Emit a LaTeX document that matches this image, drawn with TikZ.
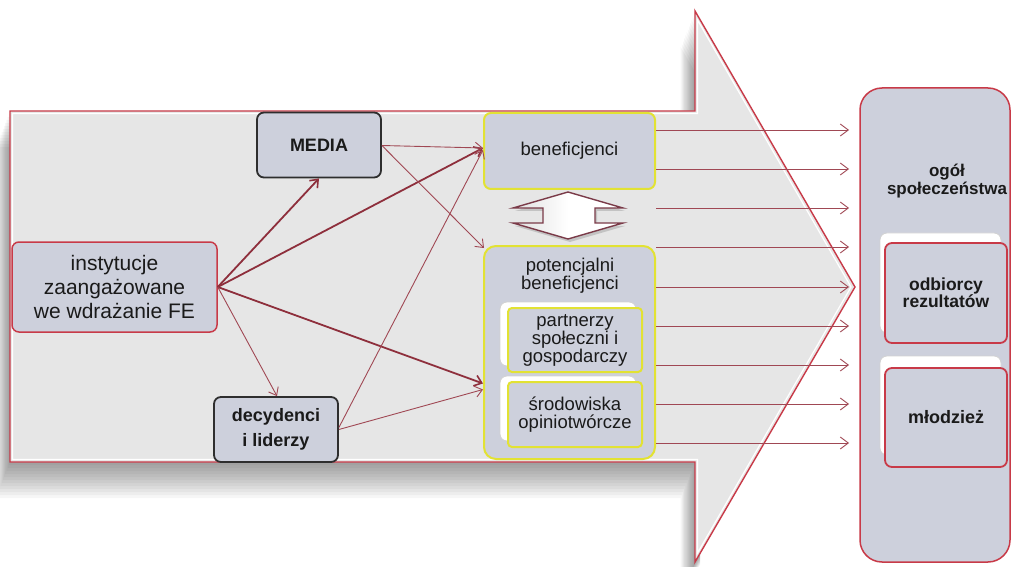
\documentclass[tikz,border=0pt]{standalone}
\usepackage{fontspec}
\setmainfont{Liberation Sans}
\usetikzlibrary{arrows.meta,calc}
\definecolor{arrowfill}{HTML}{E6E6E6}
\definecolor{redline}{HTML}{C83A48}
\definecolor{boxfill}{HTML}{CDD0DC}
\definecolor{darkarrow}{HTML}{8E2F3C}
\definecolor{thinarrow}{HTML}{A04854}
\definecolor{yell}{HTML}{E2E233}
\definecolor{darkborder}{HTML}{2E2E2E}
\definecolor{txt}{HTML}{1A1A1A}
\definecolor{dblline}{HTML}{7A3A48}
\tikzset{
  box/.style={rounded corners=7pt, fill=boxfill, align=center, inner sep=0pt, text=txt},
  redbox/.style={box, draw=redline, line width=1.5pt},
  darkbox/.style={box, draw=darkborder, line width=1.8pt, font=\bfseries\fontsize{18}{25}\selectfont},
  yelbox/.style={box, draw=yell, line width=2pt, font=\fontsize{18.5}{18}\selectfont},
  ghost/.style={rounded corners=7pt, fill=white, draw=gray!35, line width=0.8pt},
  thick arrow/.style={draw=darkarrow, line width=1.8pt, -{Straight Barb[length=7pt,width=11pt,line width=1.6pt]}},
  thin arrow/.style={draw=thinarrow, line width=0.9pt, -{Straight Barb[length=7pt,width=11pt,line width=0.9pt]}},
  out arrow/.style={draw=thinarrow, line width=0.9pt, -{Straight Barb[length=8pt,width=12pt,line width=0.9pt]}},
}
\begin{document}
\begin{tikzpicture}[x=1pt,y=-1pt]
\useasboundingbox (0,0) rectangle (1013,567);
\fill[white] (0,0) rectangle (1013,567);
% shadow of big arrow
\begin{scope}
  \clip (0,0) rectangle (700,567);
  \foreach \d in {3,6,...,36} {
    \fill[black,opacity=0.035,shift={(-\d/2.5,\d)}]
      (10,111) -- (695,111) -- (695,11) -- (855,287) -- (695,562) -- (695,462) -- (10,462) -- cycle;
  }
\end{scope}
% big arrow
\fill[arrowfill] (10,111) -- (695,111) -- (695,11) -- (855,287) -- (695,562) -- (695,462) -- (10,462) -- cycle;
\draw[white, line width=1.2pt] (12.5,113.5) -- (697.5,113.5) -- (697.5,20) -- (851,287) -- (697.5,553) -- (697.5,459.5) -- (12.5,459.5) -- cycle;
\draw[redline, line width=1.4pt, line join=miter] (10,111) -- (695,111) -- (695,11) -- (855,287) -- (695,562) -- (695,462) -- (10,462) -- cycle;

% right big box
\node[redbox, minimum width=150pt, minimum height=474pt, rounded corners=22pt] (ogol) at (935,325) {};
\node[font=\bfseries\fontsize{17}{16}\selectfont, text=txt, align=center] (ogoltxt) at (947,181) {ogół\\społeczeństwa};
\draw[ghost] (880,233) rectangle (1001,333);
\node[redbox, minimum width=122pt, minimum height=100pt, line width=1.8pt, font=\bfseries\fontsize{17.5}{16}\selectfont] (odb) at (946,293) {odbiorcy\\rezultatów};
\draw[ghost] (880,356) rectangle (1001,455);
\node[redbox, minimum width=122pt, minimum height=99pt, line width=1.8pt, font=\bfseries\fontsize{18}{16}\selectfont] (mlo) at (946,417.5) {młodzież};

% left side nodes
\node[redbox, minimum width=205pt, minimum height=90pt, font=\fontsize{21}{24}\selectfont] (inst) at (114.5,287) {instytucje\\zaangażowane\\we wdrażanie FE};
\node[darkbox, minimum width=124pt, minimum height=65pt] (media) at (319,145) {MEDIA};
\node[darkbox, minimum width=124pt, minimum height=65pt] (dec) at (276,429.5) {decydenci\\i liderzy};

% middle nodes
\node[yelbox, minimum width=171pt, minimum height=76pt] (ben) at (569.5,151) {beneficjenci};
\node[yelbox, minimum width=171pt, minimum height=213pt, rounded corners=12pt] (pot) at (569.5,352.5) {};
\node[font=\fontsize{18.5}{17}\selectfont, text=txt, align=center] (pottxt) at (570,276) {potencjalni\\beneficjenci};
\draw[ghost] (500,302) rectangle (636,366);
\node[yelbox, minimum width=134pt, minimum height=64pt, rounded corners=4pt] (part) at (575,340) {partnerzy\\społeczni i\\gospodarczy};
\draw[ghost] (500,376) rectangle (636,441);
\node[yelbox, minimum width=134pt, minimum height=65pt, rounded corners=4pt] (srod) at (575,414.5) {środowiska\\opiniotwórcze};

% double arrow between beneficjenci and potencjalni
\fill[black,opacity=0.15,shift={(2,3)}] (568,192) -- (623,208) -- (595,208) -- (595,223) -- (623,223) -- (568,239) -- (513,223) -- (543,223) -- (543,208) -- (513,208) -- cycle;
\shade[left color=gray!25, right color=white, middle color=white] (568,192) -- (623,208) -- (595,208) -- (595,223) -- (623,223) -- (568,239) -- (513,223) -- (543,223) -- (543,208) -- (513,208) -- cycle;
\draw[dblline, line width=1.4pt, line join=miter] (568,192) -- (623,208) -- (595,208) -- (595,223) -- (623,223) -- (568,239) -- (513,223) -- (543,223) -- (543,208) -- (513,208) -- cycle;

% connectors
\draw[thick arrow] (inst.east) -- (media.south);
\draw[thick arrow] (inst.east) -- ([yshift=3pt]ben.west);
\draw[thick arrow] (inst.east) -- ($(pot.west)+(0,31)$);
\draw[thin arrow] (inst.east) -- ([xshift=1pt]dec.north);
\draw[thin arrow] ([yshift=-0.5pt]media.east) -- ([yshift=3pt]ben.west);
\draw[thin arrow] ([yshift=-0.5pt]media.east) -- ($(pot.north west)+(1,3)$);
\draw[thin arrow] ([yshift=2pt]dec.east) -- ([yshift=1pt]ben.west);
\draw[thin arrow] (dec.east) -- ($(pot.west)+(0,37)$);

% outgoing arrows to society
\foreach \i/\y in {1/130,2/169,3/208,4/247,5/287,6/326,7/365,8/404,9/443} {
  \coordinate (s\i) at (656,\y);
  \coordinate (t\i) at (849,\y);
  \draw[out arrow] (s\i) -- (t\i);
}
\end{tikzpicture}
\end{document}
